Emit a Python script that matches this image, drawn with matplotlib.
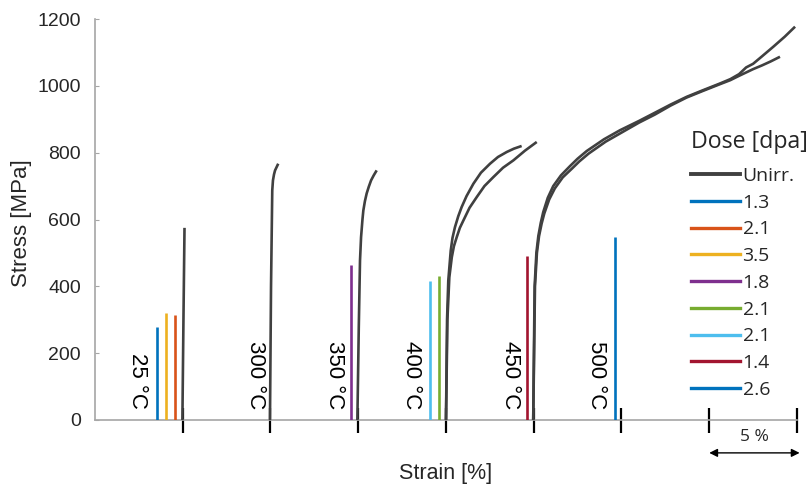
import matplotlib
matplotlib.use("Agg")
import matplotlib.pyplot as plt
from matplotlib.lines import Line2D

# ---------------- data (strain in %, stress in MPa) ----------------
# unirradiated curves
unirr_25_strain = [4.98, 5.04, 5.10]
unirr_25_stress = [0, 300, 575]

unirr_300_strain = [9.97, 10.03, 10.10, 10.14, 10.20, 10.26, 10.35, 10.44]
unirr_300_stress = [0, 400, 687, 717, 735, 747, 757, 767]

unirr_350_strain = [14.95, 15.03, 15.10, 15.16, 15.24, 15.29, 15.38, 15.48, 15.60, 15.73, 15.88, 16.05]
unirr_350_stress = [0, 277, 477, 547, 600, 627, 655, 678, 698, 717, 732, 747]

unirr_400a_strain = [20.0, 20.06, 20.13, 20.27, 20.37, 20.51, 20.70, 20.89, 21.17, 21.56,
                     21.99, 22.51, 22.96, 23.46, 23.87, 24.31]
unirr_400a_stress = [0, 300, 417, 507, 545, 577, 610, 637, 670, 707,
                     740, 767, 787, 802, 812, 820]

unirr_400b_strain = [20.0, 20.08, 20.19, 20.33, 20.45, 20.61, 20.79, 20.99, 21.34, 21.75,
                     22.19, 22.70, 23.25, 23.84, 24.50, 25.17]
unirr_400b_stress = [0, 300, 427, 487, 520, 547, 575, 597, 635, 667,
                     700, 727, 755, 777, 806, 832]

unirr_450a_strain = [24.97, 25.05, 25.15, 25.26, 25.40, 25.54, 25.80, 26.11, 26.55, 27.07,
                     27.50, 28.02, 29.00, 29.91, 31.00, 31.81, 32.80, 33.71, 34.60, 35.61,
                     36.20, 36.70, 37.10, 37.50, 38.00, 38.65, 39.30, 39.89]
unirr_450a_stress = [0, 400, 500, 550, 590, 622, 665, 700, 732, 760,
                     782, 805, 840, 867, 895, 917, 944, 967, 986, 1007,
                     1020, 1035, 1055, 1066, 1088, 1117, 1147, 1177]

unirr_450b_strain = [24.97, 25.07, 25.18, 25.30, 25.45, 25.60, 25.88, 26.20, 26.65, 27.17,
                     27.60, 28.12, 29.10, 30.00, 31.00, 31.90, 32.80, 33.71, 34.60, 35.61,
                     36.20, 36.70, 37.10, 37.50, 38.00, 38.50, 39.03]
unirr_450b_stress = [0, 400, 500, 550, 588, 618, 660, 693, 726, 752,
                     774, 797, 833, 860, 890, 914, 941, 965, 984, 1005,
                     1017, 1030, 1040, 1050, 1061, 1073, 1087]

# irradiated specimens: start strain and ultimate stress
irr_labels = ["1.3", "2.1", "3.5", "1.8", "2.1", "2.1", "1.4", "2.6"]
irr_colors = ["#0072BD", "#D95319", "#EDB120", "#7E2F8E", "#77AC30", "#4DBEEE", "#A2142F", "#0072BD"]
irr_strain = [3.51, 4.54, 4.03, 14.59, 19.60, 19.07, 24.59, 29.63]
irr_stress = [279, 315, 319, 465, 432, 416, 492, 549]

temp_labels = ["25 °C", "300 °C", "350 °C", "400 °C", "450 °C", "500 °C"]
temp_label_x = [2.45, 9.12, 13.62, 18.06, 23.70, 28.60]

x_ticks = [5, 10, 15, 20, 25, 30, 35, 40]
y_ticks = [0, 200, 400, 600, 800, 1000, 1200]

# ---------------- plot ----------------
W, H = 812, 487
fig = plt.figure(figsize=(W / 100, H / 100), dpi=100)
ax = fig.add_axes([95 / W, 67 / H, 702 / W, 401 / H])

unirr_color = "#404040"
lw_u = 1.9
curves = [
    (unirr_25_strain, unirr_25_stress),
    (unirr_300_strain, unirr_300_stress),
    (unirr_350_strain, unirr_350_stress),
    (unirr_400a_strain, unirr_400a_stress),
    (unirr_400b_strain, unirr_400b_stress),
    (unirr_450a_strain, unirr_450a_stress),
    (unirr_450b_strain, unirr_450b_stress),
]
for xs, ys in curves:
    ax.plot(xs, ys, color=unirr_color, lw=lw_u, solid_capstyle="butt",
            solid_joinstyle="round", zorder=3)

handles = [Line2D([0], [0], color=unirr_color, lw=2.8)]
for lab, col, x, s in zip(irr_labels, irr_colors, irr_strain, irr_stress):
    ax.plot([x, x], [0, s], color=col, lw=1.9, solid_capstyle="butt", zorder=3)
    handles.append(Line2D([0], [0], color=col, lw=2.4))

for lab, x in zip(temp_labels, temp_label_x):
    ax.text(x, 33, lab, rotation=270, ha="center", va="bottom",
            fontsize=16, family="Liberation Sans", color="black")

ax.set_xlim(0, 40)
ax.set_ylim(0, 1200)
ax.set_yticks(y_ticks)
ax.set_xticks(x_ticks)
ax.set_xticklabels([])

for s in ["top", "right"]:
    ax.spines[s].set_visible(False)
for s in ["left", "bottom"]:
    ax.spines[s].set_color("#a6a6a6")
    ax.spines[s].set_linewidth(1.2)

ax.tick_params(axis="y", direction="in", length=3, width=0.8, color="#a6a6a6",
               labelsize=14, labelcolor="#262626", pad=10)
ax.tick_params(axis="x", direction="inout", length=18, width=1.6, color="black")
for lab in ax.get_yticklabels():
    lab.set_family("Liberation Sans")

ax.set_ylabel("Stress [MPa]", fontsize=16, family="Liberation Sans", color="#262626")
ax.yaxis.set_label_coords(-0.0897, 0.49)
ax.set_xlabel("Strain [%]", fontsize=15.5, family="Liberation Sans", color="#262626")
ax.xaxis.set_label_coords(0.5, -0.106)

# 5 % scale arrow
ax.annotate("", xy=(40.15, -0.082), xytext=(35, -0.082),
            xycoords=("data", "axes fraction"), textcoords=("data", "axes fraction"),
            arrowprops=dict(arrowstyle="<|-|>", color="black", lw=1.0,
                            shrinkA=0, shrinkB=0, mutation_scale=12),
            annotation_clip=False)
ax.text(37.6, -0.043, "5 %", transform=ax.get_xaxis_transform(), ha="center",
        va="center", fontsize=12.5, family="Open Sans", color="#262626")

leg = ax.legend(handles, ["Unirr."] + irr_labels, title="Dose [dpa]",
                loc="upper left", bbox_to_anchor=(691 / W, 1 - 130 / H),
                bbox_transform=fig.transFigure, frameon=False,
                prop={"family": "Open Sans", "size": 14},
                title_fontproperties={"family": "Open Sans", "size": 16.7},
                handlelength=2.5, handletextpad=0.15, labelspacing=0.45,
                borderpad=0, borderaxespad=0, alignment="left")
leg._legend_box.sep = leg._legend_box.sep + 3.0
for t in leg.get_texts():
    t.set_color("#262626")
leg.get_title().set_color("#262626")

fig.savefig("out.png", dpi=100)
